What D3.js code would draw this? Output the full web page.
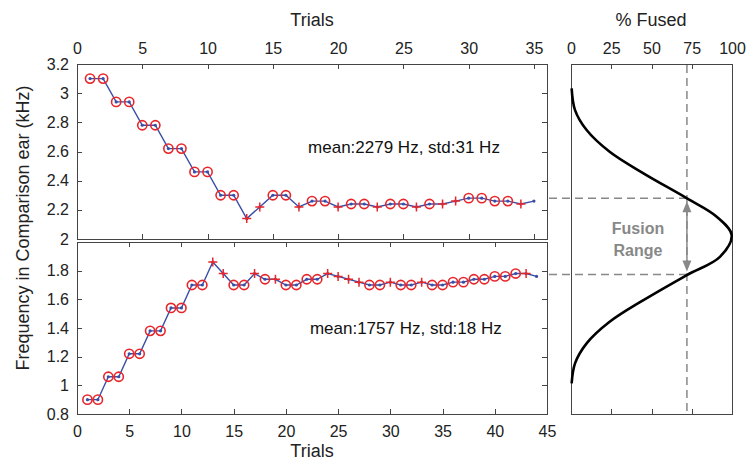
<!DOCTYPE html>
<html>
<head>
<meta charset="utf-8">
<script src="https://d3js.org/d3.v7.min.js"></script>
<style>
  body { margin: 0; background: #fff; }
  svg { font-family: "Liberation Sans", Arial, sans-serif; }
  .frame { fill: none; stroke: #444; stroke-width: 1; shape-rendering: crispEdges; }
  .axis .domain { display: none; }
  .axis line { stroke: #444; shape-rendering: crispEdges; }
  .axis text { font-size: 16px; fill: #222; }
  .lab { font-size: 18px; fill: #222; }
  .note { font-size: 17px; fill: #111; }
  .trace { fill: none; stroke: #3a4ea6; stroke-width: 1.4; }
  .dot { fill: #3a4ea6; }
  .circ { fill: none; stroke: #e8262a; stroke-width: 1.6; }
  .plus { stroke: #e8262a; stroke-width: 1.5; }
  .guide { stroke: #888; stroke-width: 1.5; stroke-dasharray: 8,5; fill: none; }
  .curve { fill: none; stroke: #000; stroke-width: 2.6; }
</style>
</head>
<body>
<script>
// upper track (comparison frequency above reference), kHz per trial
var freqTop = [3.10, 3.10, 2.94, 2.94, 2.78, 2.78, 2.62, 2.62, 2.46, 2.46,
               2.30, 2.30, 2.14, 2.22, 2.30, 2.30, 2.22, 2.26, 2.26, 2.22,
               2.24, 2.24, 2.22, 2.24, 2.24, 2.22, 2.24, 2.24, 2.26, 2.28,
               2.28, 2.26, 2.26, 2.24, 2.26];
var markTop = "oooooooooooo++oo+oo+oo+oo+o++oooo+.".split("");

// lower track
var freqBottom = [0.90, 0.90, 1.06, 1.06, 1.22, 1.22, 1.38, 1.38, 1.54, 1.54,
                  1.70, 1.70, 1.86, 1.78, 1.70, 1.70, 1.78, 1.74, 1.74, 1.70,
                  1.70, 1.74, 1.74, 1.78, 1.76, 1.74, 1.72, 1.70, 1.70, 1.72,
                  1.70, 1.70, 1.72, 1.70, 1.70, 1.72, 1.72, 1.74, 1.74, 1.76,
                  1.76, 1.78, 1.78, 1.76];
var markBottom = "oooooooooooo++oo+o+oooo++++oo+oo+ooooooooo+.".split("");

var meanLabels = ["mean:2279 Hz, std:31 Hz", "mean:1757 Hz, std:18 Hz"];
var means = [2.279, 1.757];

// % fused curve
var curveFreq = [3.033, 2.884, 2.747, 2.598, 2.45, 2.279, 2.153, 2.027,
                 1.878, 1.753, 1.581, 1.432, 1.284, 1.147, 1.01];
var curvePct  = [0.4, 2.5, 9.7, 24, 45, 72, 90.5, 99.8,
                 92.5, 72, 45, 24, 9.7, 2.5, 0.4];
var fusedLevel = 72;

var topTicks = [0, 5, 10, 15, 20, 25, 30, 35];
var bottomTicks = [0, 5, 10, 15, 20, 25, 30, 35, 40, 45];
var yTicksTop = [2, 2.2, 2.4, 2.6, 2.8, 3, 3.2];
var yTicksBottom = [0.8, 1, 1.2, 1.4, 1.6, 1.8];
var pctTicks = [0, 25, 50, 75, 100];

var svg = d3.select("body").append("svg")
    .attr("width", 747)
    .attr("height", 460);

svg.append("rect").attr("width", 747).attr("height", 460).attr("fill", "#fff");

var L = 77, R = 547;
var xTop = d3.scaleLinear().domain([0, 36]).range([L, R]);
var xBot = d3.scaleLinear().domain([0, 45]).range([L, R]);
var yTop = d3.scaleLinear().domain([2, 3.2]).range([239, 64]);
var yBot = d3.scaleLinear().domain([0.8, 2]).range([414, 242]);
var xR = d3.scaleLinear().domain([0, 100]).range([571, 732]);
var yR = d3.scaleLinear().domain([0.8, 3.2]).range([414, 64]);

function axis(g, a, tr) {
  svg.append("g").attr("class", "axis")
    .attr("transform", tr)
    .call(a);
}

// upper panel axes
axis(svg, d3.axisTop(xTop).tickValues(topTicks).tickSize(-5).tickPadding(10), "translate(0,64)");
axis(svg, d3.axisBottom(xTop).tickValues(topTicks).tickSize(-5).tickFormat(""), "translate(0,239)");
axis(svg, d3.axisLeft(yTop).tickValues(yTicksTop).tickSize(-5).tickPadding(8).tickFormat(d3.format("")), "translate(" + L + ",0)");
axis(svg, d3.axisRight(yTop).tickValues(yTicksTop).tickSize(-5).tickFormat(""), "translate(" + R + ",0)");

// lower panel axes
axis(svg, d3.axisBottom(xBot).tickValues(bottomTicks).tickSize(-5).tickPadding(12), "translate(0,414)");
axis(svg, d3.axisTop(xBot).tickValues(bottomTicks).tickSize(-5).tickFormat(""), "translate(0,242)");
axis(svg, d3.axisLeft(yBot).tickValues(yTicksBottom).tickSize(-5).tickPadding(8).tickFormat(d3.format("")), "translate(" + L + ",0)");
axis(svg, d3.axisRight(yBot).tickValues(yTicksBottom).tickSize(-5).tickFormat(""), "translate(" + R + ",0)");

// right panel axes
axis(svg, d3.axisTop(xR).tickValues(pctTicks).tickSize(-5).tickPadding(10), "translate(0,64)");
axis(svg, d3.axisBottom(xR).tickValues(pctTicks).tickSize(-5).tickFormat(""), "translate(0,414)");

// frames
svg.append("rect").attr("class", "frame").attr("x", L).attr("y", 64).attr("width", R - L).attr("height", 239 - 64);
svg.append("rect").attr("class", "frame").attr("x", L).attr("y", 242).attr("width", R - L).attr("height", 414 - 242);
svg.append("rect").attr("class", "frame").attr("x", 571).attr("y", 64).attr("width", 732 - 571).attr("height", 414 - 64);

function track(vals, marks, xs, ys) {
  var pts = vals.map(function(v, i) { return { t: i + 1, f: v, m: marks[i] }; });
  var line = d3.line().x(function(d) { return xs(d.t); }).y(function(d) { return ys(d.f); });
  svg.append("path").datum(pts).attr("class", "trace").attr("d", line);
  svg.selectAll(null).data(pts).enter().append("circle")
    .attr("class", "dot")
    .attr("cx", function(d) { return xs(d.t); })
    .attr("cy", function(d) { return ys(d.f); })
    .attr("r", 1.6);
  svg.selectAll(null).data(pts.filter(function(d) { return d.m == "o"; })).enter().append("circle")
    .attr("class", "circ")
    .attr("cx", function(d) { return xs(d.t); })
    .attr("cy", function(d) { return ys(d.f); })
    .attr("r", 4.6);
  svg.selectAll(null).data(pts.filter(function(d) { return d.m == "+"; })).enter().append("path")
    .attr("class", "plus")
    .attr("d", function(d) {
      var x = xs(d.t), y = ys(d.f), s = 4.5;
      return "M" + (x - s) + "," + y + "H" + (x + s) + "M" + x + "," + (y - s) + "V" + (y + s);
    });
}

track(freqTop, markTop, xTop, yTop);
track(freqBottom, markBottom, xBot, yBot);

svg.append("text").attr("class", "note")
  .attr("x", xTop(17.7)).attr("y", yTop(2.63)).attr("dy", "0.35em")
  .text(meanLabels[0]);
svg.append("text").attr("class", "note")
  .attr("x", xBot(22.3)).attr("y", yBot(1.40)).attr("dy", "0.35em")
  .text(meanLabels[1]);

// guides
means.forEach(function(m) {
  svg.append("line").attr("class", "guide")
    .attr("x1", R + 2).attr("x2", xR(fusedLevel))
    .attr("y1", yR(m)).attr("y2", yR(m));
});
svg.append("line").attr("class", "guide")
  .attr("x1", xR(fusedLevel)).attr("x2", xR(fusedLevel))
  .attr("y1", 65).attr("y2", 413);

// fused curve
var fused = curveFreq.map(function(f, i) { return { f: f, p: curvePct[i] }; });
svg.append("path").datum(fused).attr("class", "curve")
  .attr("d", d3.line().curve(d3.curveCatmullRom)
    .x(function(d) { return xR(d.p); })
    .y(function(d) { return yR(d.f); }));

// double arrow
var ax = xR(fusedLevel), a1 = yR(means[0]) + 3, a2 = yR(means[1]) - 3;
svg.append("line").attr("x1", ax).attr("x2", ax).attr("y1", a1 + 8).attr("y2", a2 - 8)
  .attr("stroke", "#888").attr("stroke-width", 1.5);
svg.append("path").attr("fill", "#888")
  .attr("d", "M" + ax + "," + a1 + "L" + (ax - 4.5) + "," + (a1 + 11) + "L" + (ax + 4.5) + "," + (a1 + 11) + "Z");
svg.append("path").attr("fill", "#888")
  .attr("d", "M" + ax + "," + a2 + "L" + (ax - 4.5) + "," + (a2 - 11) + "L" + (ax + 4.5) + "," + (a2 - 11) + "Z");

svg.append("text").attr("x", 638).attr("y", 228).attr("dy", "0.35em")
  .attr("text-anchor", "middle").attr("font-size", "16px").attr("font-weight", "bold").attr("fill", "#888")
  .text("Fusion");
svg.append("text").attr("x", 638).attr("y", 250).attr("dy", "0.35em")
  .attr("text-anchor", "middle").attr("font-size", "16px").attr("font-weight", "bold").attr("fill", "#888")
  .text("Range");

// axis titles
svg.append("text").attr("class", "lab").attr("text-anchor", "middle")
  .attr("x", (L + R) / 2).attr("y", 26).text("Trials");
svg.append("text").attr("class", "lab").attr("text-anchor", "middle")
  .attr("x", (L + R) / 2).attr("y", 457).text("Trials");
svg.append("text").attr("class", "lab").attr("text-anchor", "middle")
  .attr("x", 651).attr("y", 26).text("% Fused");
svg.append("text").attr("class", "lab").attr("text-anchor", "middle")
  .attr("transform", "translate(29,228) rotate(-90)")
  .text("Frequency in Comparison ear (kHz)");
</script>
</body>
</html>
